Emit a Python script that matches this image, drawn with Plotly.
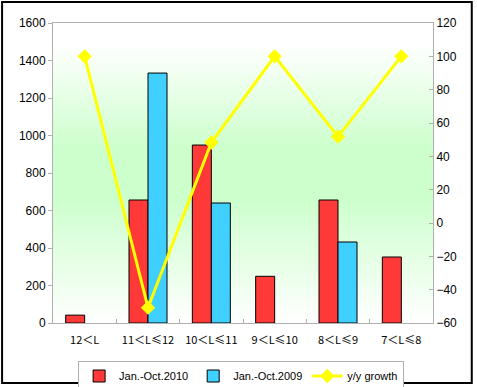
import plotly.graph_objects as go

categories = ["12＜L", "11＜L≤12", "10＜L≤11", "9＜L≤10", "8＜L≤9", "7＜L≤8"]
sales_2010 = [42, 656, 949, 249, 656, 352]
sales_2009 = [None, 1333, 640, None, 432, None]
growth = [100, -50.8, 48.3, 100, 51.8, 100]

left_ticks = list(range(0, 1601, 200))
right_ticks = list(range(-60, 121, 20))

font_main = "Liberation Sans, Arial, sans-serif"
font_cat = "Noto Sans CJK SC, sans-serif"

fig = go.Figure()

# plot-area gradient background (hidden base axes)
fig.add_trace(go.Scatter(
    x=[0, 1, 1, 0, 0], y=[0, 0, 1, 1, 0], xaxis="x", yaxis="y",
    mode="lines", line=dict(width=0), fill="toself",
    fillgradient=dict(type="vertical",
                      colorscale=[[0, "#FFFFFF"], [0.42, "#CCFFCC"], [0.58, "#CCFFCC"],
                                  [0.93, "#FFFFFF"], [1, "#FFFFFF"]]),
    hoverinfo="skip", showlegend=False))

fig.add_trace(go.Bar(
    x=categories, y=sales_2010, name="Jan.-Oct.2010", xaxis="x2", yaxis="y2",
    marker=dict(color="#FF3838", line=dict(color="black", width=1))))
fig.add_trace(go.Bar(
    x=categories, y=sales_2009, name="Jan.-Oct.2009", xaxis="x2", yaxis="y2",
    marker=dict(color="#40D0FF", line=dict(color="black", width=1))))
fig.add_trace(go.Scatter(
    x=categories, y=growth, name="y/y growth", xaxis="x2", yaxis="y3",
    mode="lines+markers", line=dict(color="#FFFF00", width=3),
    marker=dict(symbol="diamond", size=11, color="#FFFF00")))

fig.update_layout(
    width=477, height=387,
    margin=dict(l=53, r=44, t=23, b=64, autoexpand=False),
    paper_bgcolor="white", plot_bgcolor="white",
    barmode="group", bargap=0.4, bargroupgap=0,
    font=dict(family=font_main, size=12, color="black"),
    xaxis=dict(range=[0, 1], visible=False, fixedrange=True),
    yaxis=dict(range=[0, 1], visible=False, fixedrange=True),
    xaxis2=dict(overlaying="x", anchor="y2", type="category", automargin=False,
                showline=True, linecolor="#B0B0B0", linewidth=1, mirror=True,
                ticks="inside", tickson="boundaries", ticklen=4, tickcolor="#B0B0B0",
                tickangle=0, ticklabelstandoff=7,
                tickfont=dict(family=font_cat, size=11, color="black"),
                showgrid=False),
    yaxis2=dict(overlaying="y", anchor="x2", side="left", range=[0, 1600], automargin=False,
                tickvals=left_ticks, showline=True, linecolor="#B0B0B0", linewidth=1,
                ticks="outside", ticklen=4, tickcolor="#B0B0B0", showgrid=False,
                zeroline=False, tickfont=dict(size=12)),
    yaxis3=dict(overlaying="y", anchor="x2", side="right", range=[-60, 120], automargin=False,
                tickvals=right_ticks, showline=True, linecolor="#B0B0B0", linewidth=1,
                ticks="inside", ticklen=4, tickcolor="#B0B0B0", showgrid=False,
                zeroline=False, tickfont=dict(size=12)),
    legend=dict(orientation="h", x=0.495, xanchor="center", y=-0.125, yanchor="top",
                bordercolor="#B0B0B0", borderwidth=1, bgcolor="white",
                font=dict(size=11), itemwidth=30, tracegroupgap=0),
    shapes=[dict(type="rect", xref="paper", yref="paper",
                 x0=-0.134, x1=1.102, y0=-0.2, y1=1.07,
                 line=dict(color="black", width=2), fillcolor="rgba(0,0,0,0)",
                 layer="above")],
)

fig.write_html("out.html", config={"displayModeBar": False},
               post_script="document.body.style.margin='0';document.body.style.overflow='hidden';")
